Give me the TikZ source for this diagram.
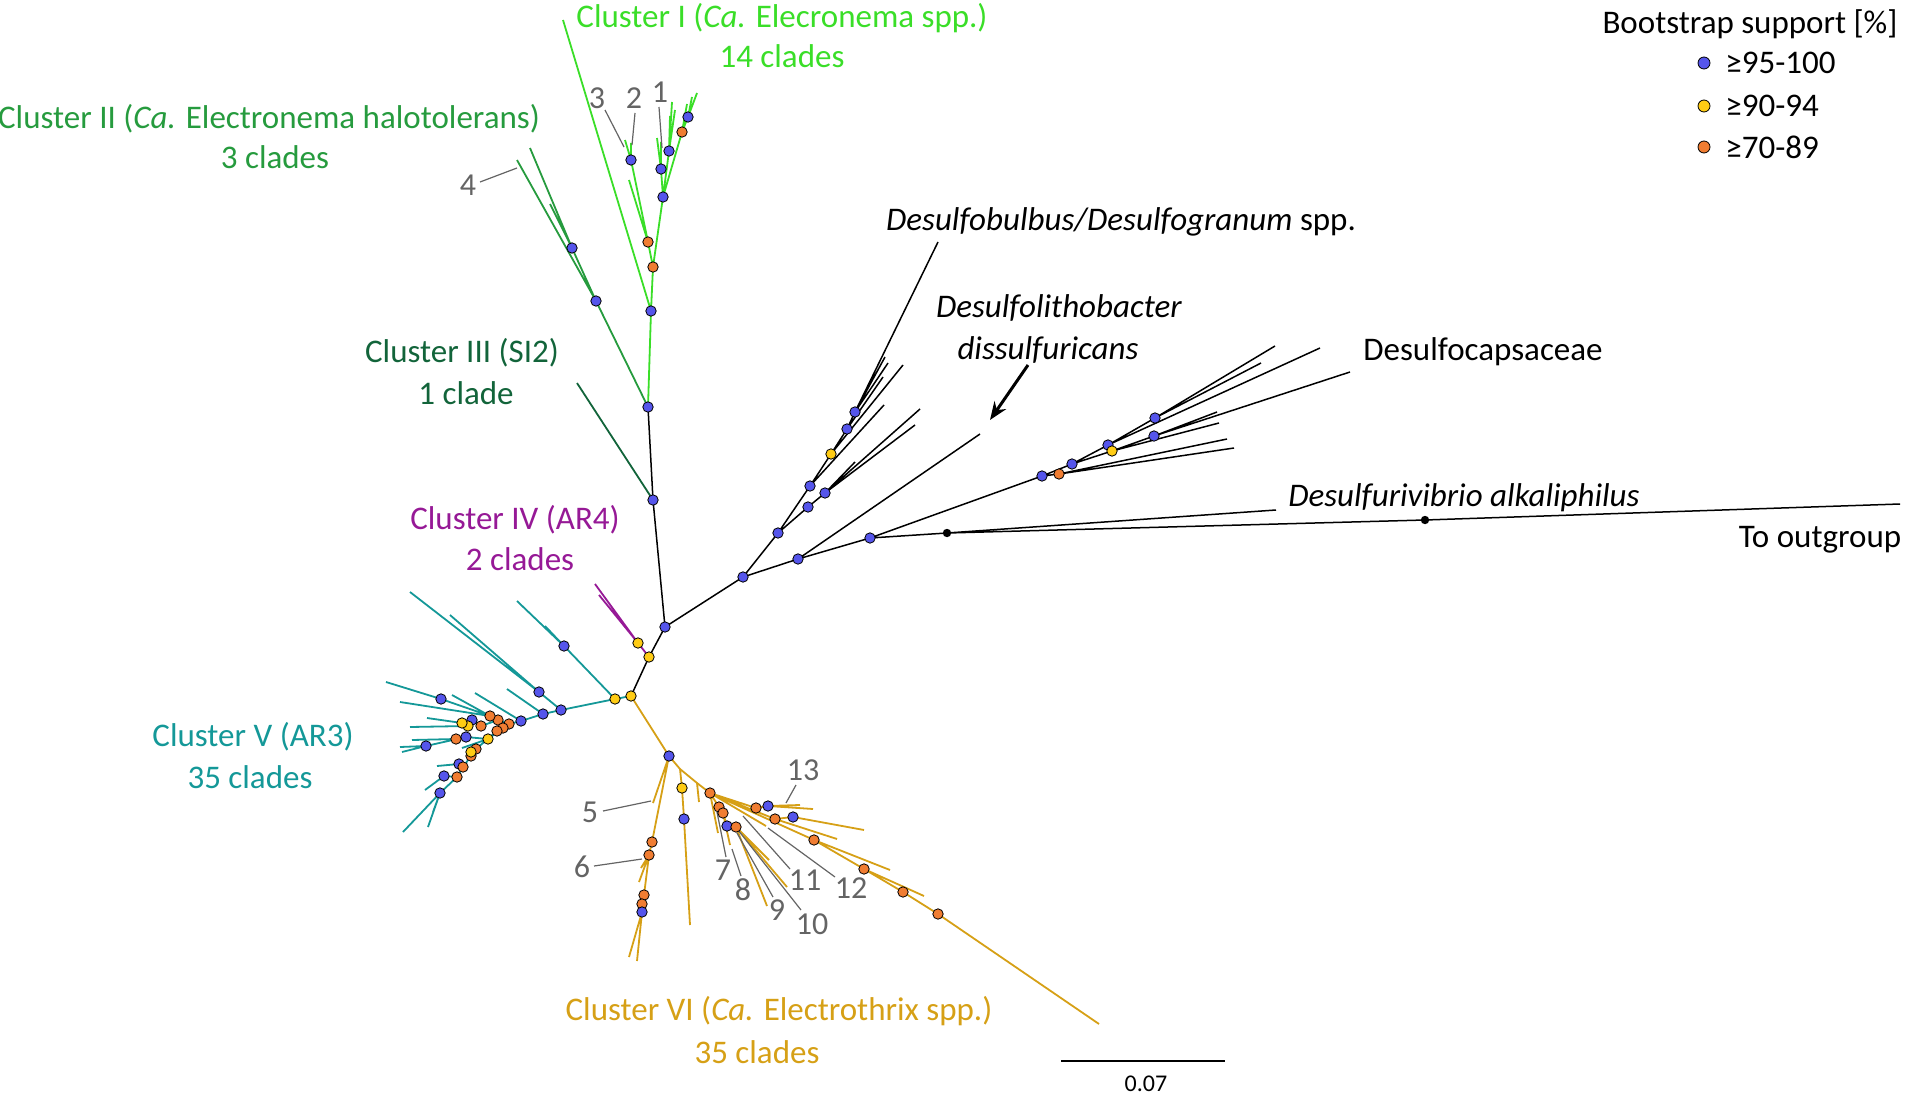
\documentclass[tikz,border=0pt]{standalone}
\usepackage{fontspec}
\setmainfont{Carlito}
\usetikzlibrary{arrows.meta}
\definecolor{cIcol}{RGB}{58,222,40}
\definecolor{cIIcol}{RGB}{38,155,62}
\definecolor{cIIIcol}{RGB}{18,100,58}
\definecolor{cIVcol}{RGB}{150,25,150}
\definecolor{cVcol}{RGB}{20,152,152}
\definecolor{cVIcol}{RGB}{214,160,22}
\definecolor{bsB}{RGB}{85,85,235}
\definecolor{bsY}{RGB}{255,204,20}
\definecolor{bsO}{RGB}{240,125,50}
\definecolor{lblgrey}{RGB}{100,100,100}
\newcommand\dotB[1]{\fill[bsB,draw=black,line width=0.4pt] (#1) circle[radius=2.6pt];}
\newcommand\dotY[1]{\fill[bsY,draw=black,line width=0.4pt] (#1) circle[radius=2.6pt];}
\newcommand\dotO[1]{\fill[bsO,draw=black,line width=0.4pt] (#1) circle[radius=2.6pt];}
\newcommand\dotK[1]{\fill[black] (#1) circle[radius=2.1pt];}
\newcommand\pt[2]{\coordinate (#1) at (#2);}
\begin{document}
\begin{tikzpicture}[x=0.5pt,y=-0.5pt,
  blk/.style={draw=black,line width=0.75pt},
  cI/.style={draw=cIcol,line width=0.9pt},
  cII/.style={draw=cIIcol,line width=0.9pt},
  cIII/.style={draw=cIIIcol,line width=0.9pt},
  cIV/.style={draw=cIVcol,line width=0.9pt},
  cV/.style={draw=cVcol,line width=0.9pt},
  cVI/.style={draw=cVIcol,line width=0.9pt},
  ptr/.style={draw=lblgrey,line width=0.6pt},
  num/.style={text=lblgrey,font=\fontsize{16}{18}\selectfont,inner sep=0pt},
  lab/.style={font=\fontsize{16.5}{20}\selectfont,inner sep=0pt,anchor=base},
]
\useasboundingbox (0,0) rectangle (1906,1097);
% ---------- coordinates: backbone
\pt{R0}{631,696}\pt{R1}{649,657}\pt{R2}{665,627}\pt{P1}{638,643}
\pt{Pa}{595,584}\pt{Pb}{599,595}\pt{V0}{615,699}\pt{B1}{653,500}\pt{B2}{648,407}
\pt{IIIe}{577,383}
% cluster I
\pt{G1}{651,311}\pt{Gtop}{563,20}\pt{G2}{653,267}\pt{G3}{648,242}\pt{G4}{631,160}
\pt{g4a}{625,140}\pt{g4b}{631,143}\pt{g3a}{629,180}\pt{G5}{663,197}\pt{G6}{661,169}
\pt{g6a}{657,138}\pt{g6b}{661,142}\pt{G7}{669,151}\pt{g7a}{672,102}\pt{g7b}{675,110}
\pt{g7c}{670,116}\pt{G8}{682,132}\pt{G9}{688,117}\pt{g9a}{697,93}\pt{g9b}{692,97}
\pt{g8a}{687,104}
% cluster II
\pt{H1}{596,301}\pt{h1a}{517,160}\pt{H2}{572,248}\pt{h2a}{530,148}\pt{h2b}{550,204}
% cluster V
\pt{T1}{561,710}\pt{T2}{564,646}\pt{t2a}{517,601}\pt{t2b}{545,626}
\pt{T3}{539,692}\pt{t3a}{410,592}\pt{t3b}{450,615}
\pt{T4}{543,714}\pt{t4a}{507,689}\pt{T5}{521,721}\pt{t5a}{475,693}
\pt{O1}{509,724}\pt{O4}{498,720}\pt{O5}{490,716}\pt{T6}{441,699}\pt{t6a}{386,682}
\pt{t5b}{452,695}\pt{t5c}{400,702}
\pt{O6}{481,726}\pt{T7}{472,720}\pt{Y1}{468,726}\pt{t7a}{410,727}\pt{Y2}{462,723}\pt{t7b}{427,718}
\pt{O2}{503,728}\pt{O3}{497,731}\pt{Y3}{488,739}\pt{T8}{466,737}\pt{O7}{456,739}
\pt{t8a}{412,740}\pt{T9}{426,746}\pt{t9a}{400,747}\pt{t9b}{402,752}\pt{t8b}{462,748}
\pt{O8}{476,749}\pt{Y4}{471,752}\pt{O9}{471,756}\pt{O10}{463,767}\pt{T10}{459,764}\pt{t10a}{437,766}
\pt{O11}{457,777}\pt{T11}{444,776}\pt{t11a}{425,790}
\pt{T12}{440,793}\pt{t12a}{403,832}\pt{t12b}{428,827}\pt{t12c}{433,812}
% cluster VI
\pt{K1}{669,756}\pt{k5}{653,803}\pt{Ka}{652,842}\pt{Kb}{649,855}\pt{Kc}{644,895}
\pt{Kd}{642,904}\pt{Ke}{642,912}\pt{ke1}{629,957}\pt{ke2}{637,961}
\pt{kb1}{641,868}\pt{kb2}{639,882}
\pt{Mj1}{680,769}\pt{My}{682,788}\pt{Mb}{684,819}\pt{me}{690,925}
\pt{Mj2}{697,783}\pt{mj2a}{699,802}\pt{M2}{710,793}\pt{m7}{718,833}
\pt{O7a}{719,807}\pt{O7b}{723,813}\pt{m8}{730,845}\pt{B7}{727,826}\pt{O7c}{736,827}
\pt{m9}{767,906}\pt{m10}{787,887}\pt{m10b}{769,860}
\pt{O13}{756,808}\pt{B13}{768,806}\pt{m13a}{813,809}\pt{m13b}{800,805}
\pt{O12}{775,819}\pt{B12}{793,817}\pt{m12a}{864,830}\pt{m12b}{837,839}\pt{m11}{766,826}
\pt{Q1}{814,840}\pt{Q2}{864,869}\pt{Q3}{903,892}\pt{Q4}{938,914}\pt{qend}{1099,1024}
\pt{q1a}{890,870}\pt{q2a}{924,896}
% black clade
\pt{C0}{743,577}\pt{C1}{778,533}\pt{C2}{798,559}\pt{C3}{810,486}\pt{C4}{808,507}
\pt{C5}{831,454}\pt{C6}{847,429}\pt{C7}{855,412}\pt{c7a}{938,242}\pt{c7b}{885,357}
\pt{c7c}{888,363}\pt{c6a}{883,377}\pt{c5a}{903,365}\pt{c3a}{884,405}
\pt{C8}{825,493}\pt{c8a}{920,409}\pt{c8b}{915,425}\pt{c8c}{855,462}
\pt{c2a}{980,434}\pt{C9}{870,538}\pt{C10}{947,533}\pt{D1}{1276,510}
\pt{C11}{1425,520}\pt{Dout}{1900,504}
\pt{E1}{1042,476}\pt{E2}{1059,474}\pt{e2a}{1227,439}\pt{e2b}{1234,448}
\pt{E3}{1072,464}\pt{E4}{1108,445}\pt{E5}{1155,418}\pt{e5a}{1275,346}\pt{e5b}{1261,363}
\pt{e4a}{1320,348}\pt{E6}{1112,451}\pt{E7}{1154,436}\pt{e7a}{1350,372}\pt{e7b}{1217,412}
\pt{e6a}{1219,423}
\pt{arS}{1028,365}\pt{arE}{990,420}
% ---------- branches
\draw[blk] (R0)--(R1)--(R2)--(B1)--(B2);
\draw[blk] (R2)--(C0);
\draw[cIV] (R1)--(P1)--(Pa) (P1)--(Pb);
\draw[cIII] (B1)--(IIIe);
\draw[cII] (B2)--(H1)--(h1a) (H1)--(H2)--(h2a) (H2)--(h2b);
\draw[cI] (B2)--(G1)--(Gtop) (G1)--(G2)--(G3)--(G4)--(g4a) (G4)--(g4b) (G3)--(g3a)
  (G2)--(G5)--(G6)--(g6a) (G6)--(g6b) (G5)--(G7)--(g7a) (G7)--(g7b) (G7)--(g7c)
  (G5)--(G8)--(G9)--(g9a) (G9)--(g9b) (G8)--(g8a);
\draw[cV] (R0)--(V0)--(T1) (V0)--(T2)--(t2a) (T2)--(t2b)
  (T1)--(T3)--(t3a) (T3)--(t3b) (T1)--(T4)--(t4a) (T4)--(T5)--(t5a)
  (T5)--(O1)--(O4)--(O5)--(T6)--(t6a) (O5)--(t5b) (O5)--(t5c)
  (O4)--(O6)--(T7)--(Y1)--(t7a) (T7)--(Y2)--(t7b)
  (O1)--(O2)--(O3) (O2)--(Y3)--(T8)--(O7)--(t8a) (T8)--(T9)--(t9a) (T9)--(t9b) (Y3)--(t8b)
  (O3)--(O8)--(Y4)--(O9)--(O10)--(T10)--(t10a) (O10)--(O11)--(T11)--(t11a)
  (O11)--(T12)--(t12a) (T12)--(t12b) (T12)--(t12c);
\draw[cVI] (R0)--(K1)--(k5) (K1)--(Ka)--(Kb)--(Kc)--(Kd)--(Ke)--(ke1) (Ke)--(ke2)
  (Kb)--(kb1) (Kb)--(kb2)
  (K1)--(Mj1)--(My)--(Mb)--(me) (Mj1)--(Mj2)--(mj2a) (Mj2)--(M2)--(m7)
  (M2)--(O7a)--(O7b)--(m8) (O7b)--(B7)--(O7c)--(m9) (O7c)--(m10) (O7c)--(m10b)
  (M2)--(O13)--(B13)--(m13a) (B13)--(m13b)
  (M2)--(O12)--(B12)--(m12a) (O12)--(m12b) (M2)--(m11)
  (M2)--(Q1)--(Q2)--(Q3)--(Q4)--(qend) (Q1)--(q1a) (Q2)--(q2a);
\draw[blk] (C0)--(C1)--(C3)--(C5)--(C6)--(C7)--(c7a) (C7)--(c7b) (C7)--(c7c)
  (C6)--(c6a) (C5)--(c5a) (C3)--(c3a)
  (C1)--(C4)--(C8)--(c8a) (C8)--(c8b) (C8)--(c8c)
  (C0)--(C2)--(c2a) (C2)--(C9)--(C10)--(D1) (C10)--(C11)--(Dout)
  (C9)--(E1)--(E2)--(e2a) (E2)--(e2b)
  (E1)--(E3)--(E4)--(E5)--(e5a) (E5)--(e5b) (E4)--(e4a)
  (E3)--(E6)--(E7)--(e7a) (E7)--(e7b) (E6)--(e6a);
\draw[line width=1.5pt,-{Stealth[length=9pt,width=7pt]}] (arS)--(arE);
% ---------- pointers to numbered clades
\pt{p3a}{605,110}\pt{p3b}{624,147}\pt{p2a}{635,113}\pt{p2b}{632,145}
\pt{p1a}{659,107}\pt{p1b}{662,148}\pt{p4a}{480,182}\pt{p4b}{517,168}
\pt{p5a}{603,811}\pt{p5b}{651,801}\pt{p6a}{594,866}\pt{p6b}{642,859}
\pt{p7a}{726,857}\pt{p7b}{717,812}\pt{p8a}{741,876}\pt{p8b}{732,849}
\pt{p9a}{773,897}\pt{p9b}{737,833}\pt{p10a}{801,910}\pt{p10b}{738,830}
\pt{p11a}{790,869}\pt{p11b}{743,816}\pt{p12a}{835,877}\pt{p12b}{768,828}
\pt{p13a}{796,785}\pt{p13b}{786,803}
\draw[ptr] (p3a)--(p3b) (p2a)--(p2b) (p1a)--(p1b) (p4a)--(p4b) (p5a)--(p5b) (p6a)--(p6b)
  (p7a)--(p7b) (p8a)--(p8b) (p9a)--(p9b) (p10a)--(p10b) (p11a)--(p11b) (p12a)--(p12b)
  (p13a)--(p13b);
% ---------- bootstrap dots
\dotB{R2}\dotY{R1}\dotY{P1}\dotY{R0}\dotY{V0}\dotB{B1}\dotB{B2}
\dotB{G1}\dotO{G2}\dotO{G3}\dotB{G4}\dotB{G5}\dotB{G6}\dotB{G7}\dotO{G8}\dotB{G9}
\dotB{H1}\dotB{H2}
\dotB{T1}\dotB{T2}\dotB{T3}\dotB{T4}\dotB{T5}\dotO{O1}\dotO{O4}\dotO{O5}\dotB{T6}
\dotO{O6}\dotB{T7}\dotY{Y1}\dotY{Y2}\dotO{O2}\dotO{O3}\dotY{Y3}\dotB{T8}\dotO{O7}\dotB{T9}
\dotO{O8}\dotO{O9}\dotY{Y4}\dotB{T10}\dotO{O10}\dotB{T11}\dotO{O11}\dotB{T12}
\dotB{K1}\dotO{Ka}\dotO{Kb}\dotO{Kc}\dotO{Kd}\dotB{Ke}\dotY{My}\dotB{Mb}\dotO{M2}
\dotO{O7a}\dotO{O7b}\dotB{B7}\dotO{O7c}\dotO{O13}\dotB{B13}\dotO{O12}\dotB{B12}
\dotO{Q1}\dotO{Q2}\dotO{Q3}\dotO{Q4}
\dotB{C0}\dotB{C1}\dotB{C2}\dotB{C3}\dotB{C4}\dotY{C5}\dotB{C6}\dotB{C7}\dotB{C8}\dotB{C9}
\dotK{C10}\dotK{C11}
\dotB{E1}\dotO{E2}\dotB{E3}\dotB{E4}\dotB{E5}\dotY{E6}\dotB{E7}
% ---------- numbers
\node[num] (n1) at (660,92) {1};
\node[num] (n2) at (634,98) {2};
\node[num] (n3) at (597,98) {3};
\node[num] (n4) at (468,185) {4};
\node[num] (n5) at (590,812) {5};
\node[num] (n6) at (582,867) {6};
\node[num] (n7) at (723,870) {7};
\node[num] (n8) at (743,890) {8};
\node[num] (n9) at (777,910) {9};
\node[num] (n10) at (812,924) {10};
\node[num] (n11) at (805,880) {11};
\node[num] (n12) at (851,888) {12};
\node[num] (n13) at (803,770) {13};
% ---------- labels (base anchored, baseline = visual centre + 11)
\node[lab,text=cIcol] (lIa) at (782,28) {Cluster I (\textit{Ca.} Elecronema spp.)};
\node[lab,text=cIcol] (lIb) at (782,68) {14 clades};
\node[lab,text=cIIcol] (lIIa) at (269,128) {Cluster II (\textit{Ca.} Electronema halotolerans)};
\node[lab,text=cIIcol] (lIIb) at (275,169) {3 clades};
\node[lab,text=cIIIcol] (lIIIa) at (462,362) {Cluster III (SI2)};
\node[lab,text=cIIIcol] (lIIIb) at (466,404) {1 clade};
\node[lab,text=cIVcol] (lIVa) at (515,529) {Cluster IV (AR4)};
\node[lab,text=cIVcol] (lIVb) at (520,570) {2 clades};
\node[lab,text=cVcol] (lVa) at (253,746) {Cluster V (AR3)};
\node[lab,text=cVcol] (lVb) at (250,788) {35 clades};
\node[lab,text=cVIcol] (lVIa) at (779,1020) {Cluster VI (\textit{Ca.} Electrothrix spp.)};
\node[lab,text=cVIcol] (lVIb) at (757,1063) {35 clades};
\node[lab] (lDb) at (1121,230) {\textit{Desulfobulbus/Desulfogranum} spp.};
\node[lab] (lDla) at (1059,317) {\textit{Desulfolithobacter}};
\node[lab] (lDlb) at (1048,359) {\textit{dissulfuricans}};
\node[lab] (lDc) at (1483,360) {Desulfocapsaceae};
\node[lab] (lDv) at (1464,506) {\textit{Desulfurivibrio alkaliphilus}};
\node[lab] (lOut) at (1820,547) {To outgroup};
% ---------- scale bar
\pt{sb1}{1061,1061}\pt{sb2}{1225,1061}
\draw[line width=1.2pt] (sb1)--(sb2);
\node[font=\fontsize{12}{14}\selectfont,inner sep=0pt] (sbl) at (1146,1084) {0.07};
% ---------- legend
\node[lab] (legT) at (1750,34) {Bootstrap support [\%]};
\pt{lg1}{1704,63}\pt{lg2}{1704,106}\pt{lg3}{1704,147}
\fill[bsB,draw=black,line width=0.4pt] (lg1) circle[radius=3pt];
\fill[bsY,draw=black,line width=0.4pt] (lg2) circle[radius=3pt];
\fill[bsO,draw=black,line width=0.4pt] (lg3) circle[radius=3pt];
\node[lab,anchor=base west] (lgt1) at (1725,74) {≥95-100};
\node[lab,anchor=base west] (lgt2) at (1725,117) {≥90-94};
\node[lab,anchor=base west] (lgt3) at (1725,158) {≥70-89};
\end{tikzpicture}
\end{document}
